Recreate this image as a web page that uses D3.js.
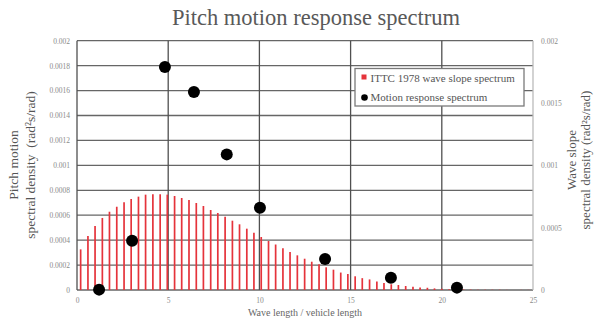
<!DOCTYPE html>
<html>
<head>
<meta charset="utf-8">
<script src="https://cdn.jsdelivr.net/npm/d3@7"></script>
<style>
  html, body { margin: 0; padding: 0; background: #fff; }
  svg { display: block; }
  text { font-family: "Liberation Serif", "DejaVu Serif", serif; }
</style>
</head>
<body>
<svg id="chart" width="595" height="323"></svg>
<script>
// Wave length / vehicle length at each spectrum line
const waveX = [0.20, 0.60, 0.99, 1.39, 1.78, 2.18, 2.58, 2.97, 3.37, 3.76,
  4.16, 4.56, 4.95, 5.35, 5.74, 6.14, 6.54, 6.93, 7.33, 7.72,
  8.12, 8.52, 8.91, 9.31, 9.70, 10.10, 10.50, 10.89, 11.29, 11.68,
  12.08, 12.48, 12.87, 13.27, 13.66, 14.06, 14.46, 14.85, 15.25, 15.64,
  16.04, 16.44, 16.83, 17.23, 17.62, 18.02, 18.42, 18.81, 19.21, 19.60,
  20.00, 20.40, 20.79, 21.19, 21.58, 21.98, 22.38, 22.77, 23.17, 23.56,
  23.96, 24.36, 24.75];
// ITTC 1978 wave slope spectral density (rad²s/rad)
const waveSlope = [0.000326, 0.000433, 0.000513, 0.000578, 0.000628, 0.000668, 0.000703, 0.000730, 0.000749, 0.000765,
  0.000768, 0.000768, 0.000765, 0.000754, 0.000738, 0.000722, 0.000698, 0.000674, 0.000642, 0.000618,
  0.000588, 0.000556, 0.000527, 0.000492, 0.000460, 0.000425, 0.000393, 0.000365, 0.000334, 0.000305,
  0.000278, 0.000251, 0.000227, 0.000206, 0.000182, 0.000163, 0.000140, 0.000128, 0.000110, 0.000095,
  0.000085, 0.000068, 0.000056, 0.000046, 0.000040, 0.000032, 0.000027, 0.000021, 0.000018, 0.000013,
  0.000010, 0.000007, 0.000005, 0.000004, 0.000003, 0.000003, 0.000002, 0.000002, 0.000002, 0.000001,
  0.000001, 0.000001, 0.000001];
// Pitch motion response spectrum points
const motionX = [1.21, 3.02, 4.82, 6.41, 8.21, 10.03, 13.60, 17.21, 20.83];
const motionY = [0.000003, 0.000395, 0.001789, 0.001588, 0.001088, 0.000660, 0.000249, 0.000099, 0.000019];

const xTicks = [0, 5, 10, 15, 20, 25];
const leftTicks = [0, 0.0002, 0.0004, 0.0006, 0.0008, 0.001, 0.0012, 0.0014, 0.0016, 0.0018, 0.002];
const leftTickLabels = ["0", "0.0002", "0.0004", "0.0006", "0.0008", "0.001", "0.0012", "0.0014", "0.0016", "0.0018", "0.002"];
const rightTicks = [0, 0.0005, 0.001, 0.0015, 0.002];
const rightTickLabels = ["0", "0.0005", "0.001", "0.0015", "0.002"];
const legendLabels = ["ITTC 1978 wave slope spectrum", "Motion response spectrum"];

const svg = d3.select("#chart");
const m = { left: 77, right: 533, top: 40.7, bottom: 290 };

const x = d3.scaleLinear().domain([0, 25]).range([m.left, m.right]);
const yL = d3.scaleLinear().domain([0, 0.002]).range([m.bottom, m.top]);
const yR = d3.scaleLinear().domain([0, 0.002]).range([m.bottom, m.top]);

// Title
svg.append("text")
  .attr("x", 316).attr("y", 25)
  .attr("text-anchor", "middle")
  .attr("font-size", 22.5)
  .attr("fill", "#595959")
  .text("Pitch motion response spectrum");

// Grid
const grid = svg.append("g");
grid.selectAll("line.h").data(leftTicks).join("line")
  .attr("x1", m.left).attr("x2", m.right)
  .attr("y1", d => yL(d)).attr("y2", d => yL(d))
  .attr("stroke", "#666").attr("stroke-width", 1.3);
grid.selectAll("line.v").data(xTicks).join("line")
  .attr("x1", d => x(d)).attr("x2", d => x(d))
  .attr("y1", m.top).attr("y2", m.bottom)
  .attr("stroke", d => d === 25 ? "#bbbbbb" : "#505050")
  .attr("stroke-width", 1.3);

// Wave slope spectrum lines
svg.append("g").selectAll("line").data(waveX).join("line")
  .attr("x1", d => x(d)).attr("x2", d => x(d))
  .attr("y1", yR(0)).attr("y2", (d, i) => yR(waveSlope[i]))
  .attr("stroke", "#e5333b").attr("stroke-width", 1.7);

// Motion response points
svg.append("g").selectAll("circle").data(motionX).join("circle")
  .attr("cx", d => x(d)).attr("cy", (d, i) => yL(motionY[i]))
  .attr("r", 6)
  .attr("fill", "#000");

// Axes
const tickStyle = g => {
  g.select(".domain").remove();
  g.selectAll(".tick line").remove();
  g.selectAll(".tick text")
    .attr("font-family", "Liberation Serif, serif")
    .attr("font-size", 7.5)
    .attr("fill", "#8a8a8a");
};

svg.append("g")
  .attr("transform", `translate(${m.left},0)`)
  .call(d3.axisLeft(yL).tickValues(leftTicks).tickSize(0).tickPadding(7)
    .tickFormat((d, i) => leftTickLabels[i]))
  .call(tickStyle);

svg.append("g")
  .attr("transform", `translate(${m.right},0)`)
  .call(d3.axisRight(yR).tickValues(rightTicks).tickSize(0).tickPadding(8)
    .tickFormat((d, i) => rightTickLabels[i]))
  .call(tickStyle);

svg.append("g")
  .attr("transform", `translate(0,${m.bottom})`)
  .call(d3.axisBottom(x).tickValues(xTicks).tickSize(0).tickPadding(8)
    .tickFormat(d3.format("d")))
  .call(tickStyle);

// Axis titles
svg.append("text")
  .attr("x", 305).attr("y", 316)
  .attr("text-anchor", "middle")
  .attr("font-size", 10)
  .attr("fill", "#666")
  .text("Wave length / vehicle length");

const leftTitle = svg.append("text")
  .attr("transform", "translate(0,165) rotate(-90)")
  .attr("text-anchor", "middle")
  .attr("font-size", 13.5)
  .attr("fill", "#555");
leftTitle.append("tspan").attr("x", 0).attr("y", 18).text("Pitch motion");
leftTitle.append("tspan").attr("x", 0).attr("y", 35)
  .text("spectral density\u2002(rad\u00b2s/rad)");

const rightTitle = svg.append("text")
  .attr("transform", "translate(0,160) rotate(-90)")
  .attr("text-anchor", "middle")
  .attr("font-size", 13)
  .attr("fill", "#555");
rightTitle.append("tspan").attr("x", 0).attr("y", 576).text("Wave slope");
rightTitle.append("tspan").attr("x", 0).attr("y", 590)
  .text("spectral density (rad\u00b2s/rad)");

// Legend
const lg = svg.append("g");
lg.append("rect")
  .attr("x", 355).attr("y", 68.5).attr("width", 169).attr("height", 37.5)
  .attr("fill", "#fff").attr("stroke", "#7a7a7a").attr("stroke-width", 1.3);
lg.append("rect")
  .attr("x", 361.5).attr("y", 74.5).attr("width", 5).attr("height", 5)
  .attr("fill", "#e5333b");
lg.append("circle")
  .attr("cx", 364.5).attr("cy", 97.5).attr("r", 3.3).attr("fill", "#000");
lg.selectAll("text.lab").data(legendLabels).join("text")
  .attr("x", 370.5).attr("y", (d, i) => 81.5 + i * 19)
  .attr("font-size", 11)
  .attr("fill", "#555")
  .text(d => d);
</script>
</body>
</html>
